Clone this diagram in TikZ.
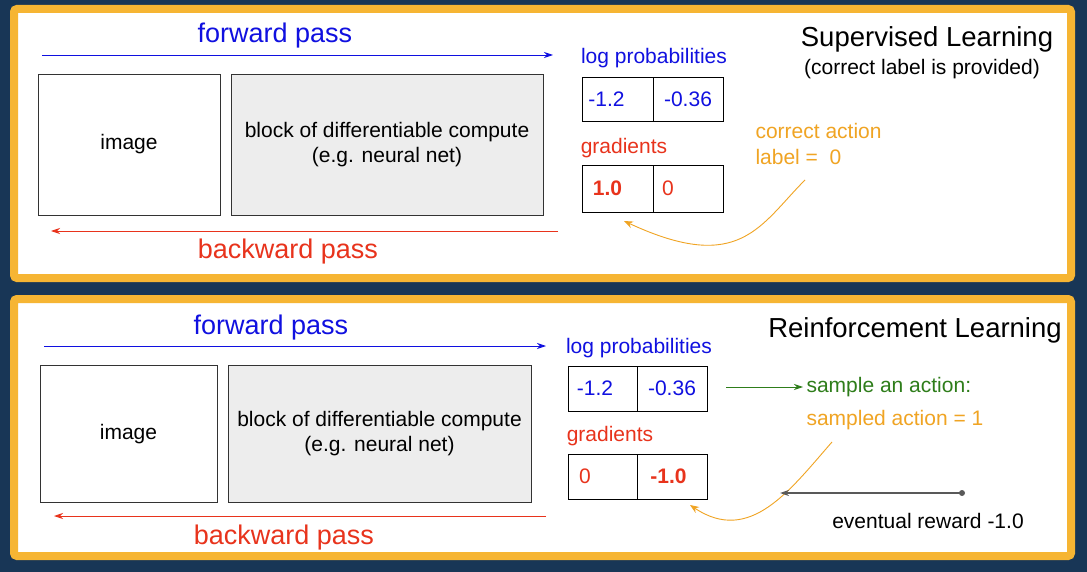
\documentclass[tikz,border=0pt]{standalone}
\usepackage{fontspec}
\setmainfont{Liberation Sans}
\usetikzlibrary{arrows.meta}
\definecolor{navy}{HTML}{183656}
\definecolor{gold}{HTML}{F6B533}
\definecolor{fblue}{HTML}{1010E0}
\definecolor{bred}{HTML}{E8331C}
\definecolor{lorange}{HTML}{F0A423}
\definecolor{dgreen}{HTML}{2E7D1A}
\begin{document}
\begin{tikzpicture}[x=1pt,y=-1pt,
 lbl/.style={font=\fontsize{21}{25}\selectfont},
 dn/.style={yshift=-3pt},
 big/.style={font=\fontsize{27}{31}\selectfont,yshift=-3pt},
 ttl/.style={font=\fontsize{27.5}{32}\selectfont,yshift=-2pt},
 box/.style={draw=black!80,line width=0.8pt},
 cell/.style={draw=black,line width=0.9pt},
 arr/.style={-{Stealth[length=9pt,width=6pt]},line width=0.9pt},
 curv/.style={-{Stealth[length=9pt,width=7pt]},line width=0.9pt,draw=lorange}]
\fill[navy] (0,0) rectangle (1087,572);
\useasboundingbox (0,0) rectangle (1087,572);
% panels
\filldraw[fill=white,draw=gold,line width=8pt,rounded corners=3pt] (14,9) rectangle (1071,278);
\filldraw[fill=white,draw=gold,line width=8pt,rounded corners=3pt] (14,299) rectangle (1071,556);
% ===== top =====
\node[big,text=fblue] (fp1) at (275,33) {forward pass};
\coordinate (fa1s) at (42,55); \coordinate (fa1e) at (553,55);
\draw[arr,fblue] (fa1s) -- (fa1e);
\node[box,minimum width=182pt,minimum height=141pt,lbl] (img1) at (129,144.5) {\raisebox{-3pt}{image}};
\node[box,fill=black!7,minimum width=312pt,minimum height=141pt,lbl,align=center] (blk1) at (387,144.5) {\raisebox{-3pt}{block of differentiable compute}\\\raisebox{-3pt}{(e.g. neural net)}};
\coordinate (ba1s) at (558,231); \coordinate (ba1e) at (51,231);
\draw[arr,bred] (ba1s) -- (ba1e);
\node[big,text=bred] (bp1) at (288,249) {backward pass};
\node[lbl,dn,text=fblue] (lp1) at (654,55) {log probabilities};
\node[cell,minimum width=71pt,minimum height=44pt,lbl,text=fblue] (a1) at (617.5,99) {\hspace*{-22pt}-1.2};
\node[cell,minimum width=70pt,minimum height=44pt,lbl,text=fblue] (b1) at (688,99) {-0.36};
\node[lbl,dn,text=bred] (g1) at (624,145) {gradients};
\node[cell,minimum width=71pt,minimum height=47pt,lbl,text=bred] (c1) at (617.5,188.5) {\hspace*{-20pt}\textbf{1.0}};
\node[cell,minimum width=70pt,minimum height=47pt,lbl,text=bred] (d1) at (688,188.5) {\hspace*{-40pt}0};
\node[ttl] (t1) at (927,37) {Supervised Learning};
\node[lbl,dn] (t1b) at (922,66) {(correct label is provided)};
\node[lbl,dn,text=lorange,align=left,anchor=west] (ca) at (752,141) {correct action\\[1pt]label =\ \ 0};
\coordinate (cs1) at (805,180); \coordinate (ce1) at (624,221);
\draw[curv] (cs1) .. controls (760,225) and (740,275) .. (ce1);
% ===== bottom =====
\node[big,text=fblue] (fp2) at (271,325) {forward pass};
\coordinate (fa2s) at (44,346); \coordinate (fa2e) at (546,346);
\draw[arr,fblue] (fa2s) -- (fa2e);
\node[box,minimum width=177pt,minimum height=137pt,lbl] (img2) at (128.5,434) {\raisebox{-3pt}{image}};
\node[box,fill=black!7,minimum width=303pt,minimum height=137pt,lbl,align=center] (blk2) at (379.5,434) {\raisebox{-3pt}{block of differentiable compute}\\\raisebox{-3pt}{(e.g. neural net)}};
\coordinate (ba2s) at (546,516); \coordinate (ba2e) at (54,516);
\draw[arr,bred] (ba2s) -- (ba2e);
\node[big,text=bred] (bp2) at (284,535) {backward pass};
\node[lbl,dn,text=fblue] (lp2) at (639,345) {log probabilities};
\node[cell,minimum width=69pt,minimum height=45pt,lbl,text=fblue] (a2) at (602.5,388.5) {\hspace*{-15pt}-1.2};
\node[cell,minimum width=70pt,minimum height=45pt,lbl,text=fblue] (b2) at (672,388.5) {-0.36};
\node[lbl,dn,text=bred] (g2) at (610,433) {gradients};
\node[cell,minimum width=69pt,minimum height=45pt,lbl,text=bred] (c2) at (602.5,476.5) {\hspace*{-35pt}0};
\node[cell,minimum width=70pt,minimum height=45pt,lbl,text=bred] (d2) at (672,476.5) {\hspace*{-7pt}\textbf{-1.0}};
\node[ttl] (t2) at (915,328) {Reinforcement Learning};
\node[lbl,text=dgreen,anchor=west] (sa) at (803,387) {sample an action:};
\coordinate (gs) at (726,387);
\draw[arr,dgreen] (gs) -- (sa.west);
\node[lbl,dn,text=lorange,anchor=west] (sd) at (803,417) {sampled action = 1};
\coordinate (cs2) at (832,442); \coordinate (ce2) at (690,505);
\draw[curv] (cs2) .. controls (790,490) and (750,545) .. (ce2);
\coordinate (rs) at (962,493); \coordinate (re) at (780,493);
\fill[black!65] (rs) circle (3pt);
\draw[arr,black!65,line width=1.2pt] (rs) -- (re);
\node[lbl,dn] (er) at (928,518) {eventual reward -1.0};
\end{tikzpicture}
\end{document}
